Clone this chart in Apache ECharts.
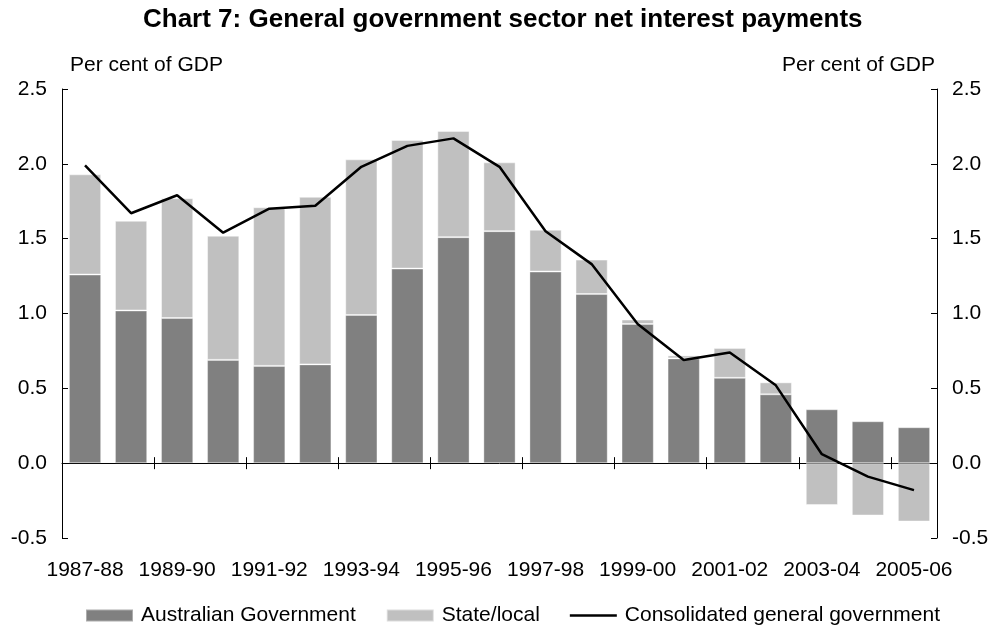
<!DOCTYPE html>
<html>
<head>
<meta charset="utf-8">
<script src="https://cdn.jsdelivr.net/npm/echarts@6/dist/echarts.min.js"></script>
<style>
  html, body { margin: 0; padding: 0; background: #fff; }
  #chart { width: 994px; height: 628px; }
</style>
</head>
<body>
<div id="chart"></div>
<script>
// Financial years
const years = [
  '1987-88', '1988-89', '1989-90', '1990-91', '1991-92', '1992-93', '1993-94',
  '1994-95', '1995-96', '1996-97', '1997-98', '1998-99', '1999-00', '2000-01',
  '2001-02', '2002-03', '2003-04', '2004-05', '2005-06'
];

// Net interest payments, per cent of GDP
const australianGovernment = [
  1.26, 1.02, 0.97, 0.69, 0.65, 0.66, 0.99, 1.30, 1.51, 1.55,
  1.28, 1.13, 0.93, 0.70, 0.57, 0.46, 0.36, 0.28, 0.24
];
const stateLocal = [
  0.67, 0.60, 0.80, 0.83, 1.06, 1.12, 1.04, 0.86, 0.71, 0.46,
  0.28, 0.23, 0.03, 0.02, 0.20, 0.08, -0.28, -0.35, -0.39
];
const consolidated = [
  1.99, 1.67, 1.79, 1.54, 1.70, 1.72, 1.98, 2.12, 2.17, 1.98,
  1.55, 1.33, 0.93, 0.69, 0.74, 0.52, 0.06, -0.09, -0.18
];

// Value axis ticks
const yMin = -0.5, yMax = 2.5, yStep = 0.5;

const FONT = '"Liberation Sans", Arial, sans-serif';
const FS = 21;
const chart = echarts.init(document.getElementById('chart'));

const valueAxis = (position) => ({
  type: 'value',
  position: position,
  min: yMin,
  max: yMax,
  interval: yStep,
  splitLine: { show: false },
  axisLine: { show: true, lineStyle: { color: '#000', width: 1 } },
  axisTick: { show: true, inside: true, length: 6, lineStyle: { color: '#000' } },
  axisLabel: {
    color: '#000', fontSize: FS, fontFamily: FONT, margin: 15,
    formatter: v => v.toFixed(1)
  }
});

// Zero-line axis showing only ticks at every second category boundary
const zeroAxis = (position) => ({
  type: 'category',
  data: years,
  position: position,
  boundaryGap: true,
  axisLine: { show: position === 'bottom', onZero: true, onZeroAxisIndex: 0,
              lineStyle: { color: '#000', width: 1 } },
  axisTick: { show: true, interval: 1, length: 6, lineStyle: { color: '#000' } },
  axisLabel: { show: false }
});

chart.setOption({
  animation: false,
  backgroundColor: '#fff',
  graphic: [
    {
      type: 'text', left: 143, top: 7,
      style: {
        text: 'Chart 7: General government sector net interest payments',
        font: 'bold 26px ' + FONT, fill: '#000'
      }
    },
    {
      type: 'text', left: 70, top: 55,
      style: { text: 'Per cent of GDP', font: FS + 'px ' + FONT, fill: '#000' }
    },
    {
      type: 'text', right: 59, top: 55,
      style: { text: 'Per cent of GDP', font: FS + 'px ' + FONT, fill: '#000', align: 'right' }
    }
  ],
  grid: { left: 62, right: 57, top: 89, bottom: 90, outerBoundsMode: 'none' },
  legend: {
    left: 85,
    top: 605,
    padding: 0,
    itemWidth: 47,
    itemHeight: 12,
    itemGap: 30,
    textStyle: { color: '#000', fontSize: FS, fontFamily: FONT, padding: [0, 0, 0, 3] },
    data: [
      { name: 'Australian Government', icon: 'rect' },
      { name: 'State/local', icon: 'rect' },
      { name: 'Consolidated general government', icon: 'path://M0,0L94,0L94,5L0,5Z' }
    ]
  },
  xAxis: [
    {
      type: 'category',
      data: years,
      position: 'bottom',
      axisLine: { show: false, onZero: false },
      axisTick: { show: false },
      axisLabel: { interval: 1, color: '#000', fontSize: FS, fontFamily: FONT, margin: 22 }
    },
    zeroAxis('bottom'),
    zeroAxis('top')
  ],
  yAxis: [valueAxis('left'), valueAxis('right')],
  series: [
    {
      name: 'Australian Government',
      type: 'bar',
      stack: 'total',
      barWidth: '70%',
      data: australianGovernment,
      itemStyle: { color: '#808080', borderColor: 'rgba(255,255,255,0.35)', borderWidth: 1 }
    },
    {
      name: 'State/local',
      type: 'bar',
      stack: 'total',
      barWidth: '70%',
      data: stateLocal,
      itemStyle: { color: '#c0c0c0', borderColor: 'rgba(255,255,255,0.45)', borderWidth: 1 }
    },
    {
      name: 'Consolidated general government',
      type: 'line',
      data: consolidated,
      symbol: 'none',
      lineStyle: { color: '#000', width: 2.5 },
      itemStyle: { color: '#000' },
      z: 5
    }
  ]
});
</script>
</body>
</html>
